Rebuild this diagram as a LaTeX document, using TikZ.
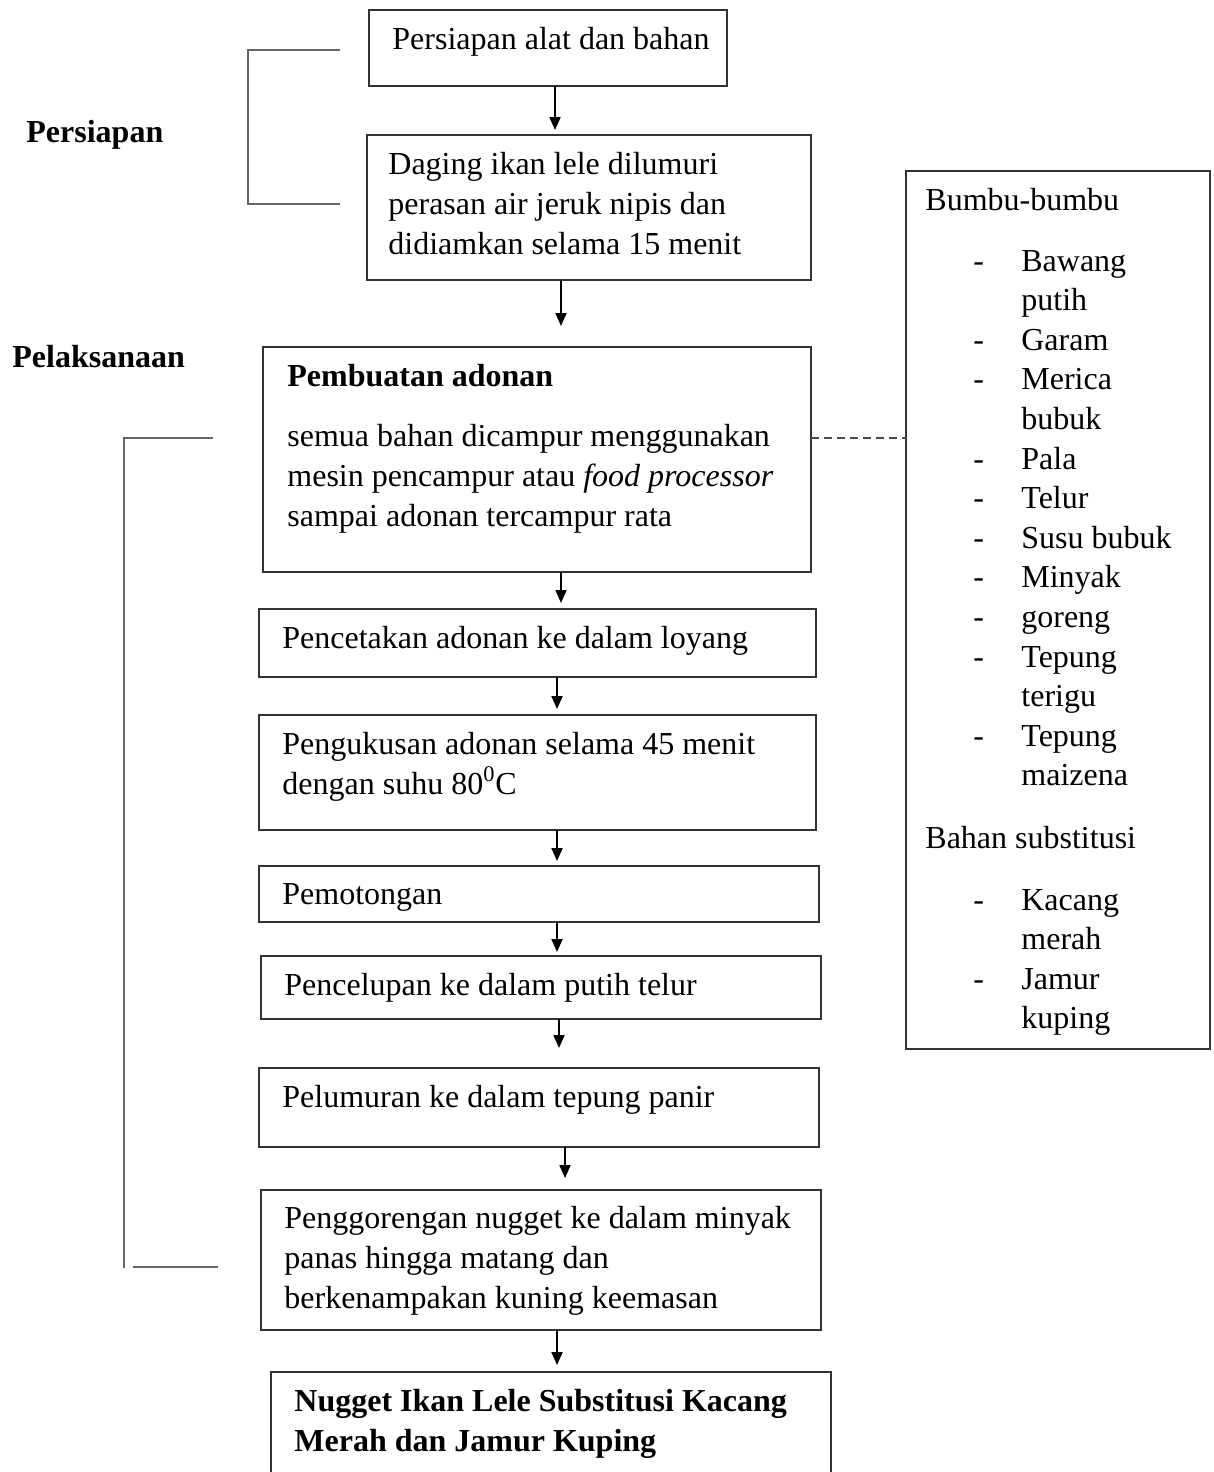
\documentclass[tikz,border=0pt]{standalone}
\usepackage{fontspec}
\setmainfont{Liberation Serif}
\usetikzlibrary{arrows.meta}
\begin{document}
\begin{tikzpicture}[x=0.5pt, y=-0.5pt, >={Triangle[length=6.5pt,width=5.5pt]},
    box/.style={draw=black!80, line width=0.9pt, rectangle, anchor=north west, inner sep=0pt, outer sep=0pt},
    txt/.style={anchor=base west, inner sep=0pt, align=left, font=\fontsize{16}{19.8}\selectfont},
    flow/.style={->, line width=0.9pt},
    brace/.style={draw=black!60, line width=1pt}]
    \useasboundingbox (0,0) rectangle (1214,1472);

    % boxes of the flow
    \node[box, minimum width=179pt, minimum height=38pt]   (b1) at (369,10) {};
    \node[box, minimum width=222pt, minimum height=72.5pt] (b2) at (367,135) {};
    \node[box, minimum width=274pt, minimum height=112.5pt] (b3) at (263,347) {};
    \node[box, minimum width=278.5pt, minimum height=34pt] (b4) at (259,609) {};
    \node[box, minimum width=278.5pt, minimum height=57.5pt] (b5) at (259,715) {};
    \node[box, minimum width=280pt, minimum height=28pt]   (b6) at (259,866) {};
    \node[box, minimum width=280pt, minimum height=31.5pt] (b7) at (261,956) {};
    \node[box, minimum width=280pt, minimum height=39.5pt] (b8) at (259,1068) {};
    \node[box, minimum width=280pt, minimum height=70pt]   (b9) at (261,1190) {};
    \node[box, minimum width=280pt, minimum height=64pt]   (b10) at (271,1372) {};
    \node[box, minimum width=152pt, minimum height=439pt]  (bumbu) at (906,171) {};

    % texts (base = last line)
    \node[txt] (t1) at (392,49) {Persiapan alat dan bahan};
    \node[txt] (t2) at (388,254) {Daging ikan lele dilumuri\\perasan air jeruk nipis dan\\didiamkan selama 15 menit};
    \node[txt, font=\fontsize{16}{19.8}\selectfont\bfseries] (t3a) at (287,386) {Pembuatan adonan};
    \node[txt] (t3b) at (287,526) {semua bahan dicampur menggunakan\\mesin pencampur atau \textit{food processor}\\sampai adonan tercampur rata};
    \node[txt] (t4) at (282,648) {Pencetakan adonan ke dalam loyang};
    \node[txt] (t5) at (282,794) {Pengukusan adonan selama 45 menit\\dengan suhu 80\textsuperscript{0}C};
    \node[txt] (t6) at (282,904) {Pemotongan};
    \node[txt] (t7) at (284,995) {Pencelupan ke dalam putih telur};
    \node[txt] (t8) at (282,1107) {Pelumuran ke dalam tepung panir};
    \node[txt] (t9) at (284,1308) {Penggorengan nugget ke dalam minyak\\panas hingga matang dan\\berkenampakan kuning keemasan};
    \node[txt, font=\fontsize{16}{19.8}\selectfont\bfseries] (t10) at (294,1451) {Nugget Ikan Lele Substitusi Kacang\\Merah dan Jamur Kuping};

    \node[txt] (tb) at (925,210) {Bumbu-bumbu};
    \node[txt] (lb) at (973,271) {\begin{tabular}[t]{@{}p{24pt}@{}l@{}}
        - & Bawang\\ & putih\\ - & Garam\\ - & Merica\\ & bubuk\\ - & Pala\\ - & Telur\\
        - & Susu bubuk\\ - & Minyak\\ - & goreng\\ - & Tepung\\ & terigu\\ - & Tepung\\ & maizena
        \end{tabular}};
    \node[txt] (ts) at (925,848) {Bahan substitusi};
    \node[txt] (ls) at (973,910) {\begin{tabular}[t]{@{}p{24pt}@{}l@{}}
        - & Kacang\\ & merah\\ - & Jamur\\ & kuping
        \end{tabular}};

    % stage labels
    \node[txt, font=\fontsize{16}{19.8}\selectfont\bfseries] (persiapan) at (26,142) {Persiapan};
    \node[txt, font=\fontsize{16}{19.8}\selectfont\bfseries] (pelaksanaan) at (12,367) {Pelaksanaan};

    % arrows
    \foreach \a/\b/\dx/\gap in {b1/b2/3.5/2.5, b2/b3/-14/10.5, b3/b4/12/3, b4/b5/9.75/3,
        b5/b6/9.75/2.5, b6/b7/9/2, b7/b8/9/10, b8/b9/13/6, b9/b10/8/3.5}
        \draw[flow, shorten >=\gap pt] ([xshift=\dx pt]\a.south) -- ([xshift=\dx pt]\a.south |- \b.north);

    % dashed link to the ingredients
    \draw[black!70, line width=0.9pt, dash pattern=on 4pt off 2.5pt]
        ([yshift=10.75pt]b3.east) -- ([yshift=10.75pt]b3.east -| bumbu.west);

    % brackets
    \draw[brace] (340,50) -- (248,50) -- (248,204) -- (340,204);
    \draw[brace] (213,438) -- (124,438) -- (124,1268);
    \draw[brace] (133,1267) -- (218,1267);
\end{tikzpicture}
\end{document}
